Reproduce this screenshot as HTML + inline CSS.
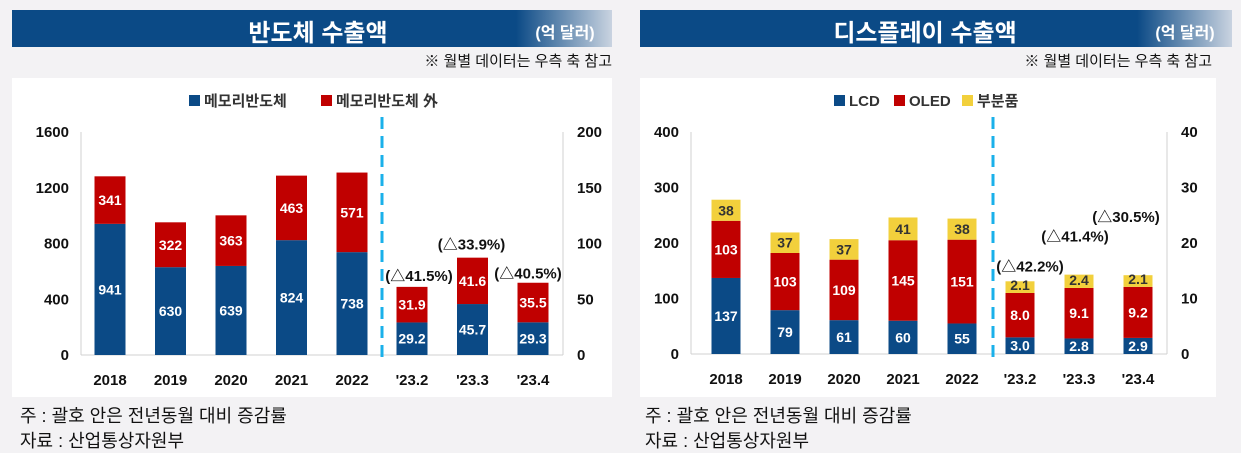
<!DOCTYPE html>
<html><head><meta charset="utf-8"><style>
body{margin:0;width:1241px;height:452px;background:#f3f2f4;font-family:"Liberation Sans","Noto Sans CJK KR",sans-serif;overflow:hidden;position:relative}
.hdr{position:absolute;top:10px;height:37px;background:linear-gradient(90deg,#0b4a86 0%,#0b4a86 84%,#c9d3e0 100%);color:#fff;font-weight:bold}
.hdr .t{position:absolute;top:3px;font-size:24px;transform:translateX(-50%);white-space:nowrap}
.hdr .u{position:absolute;top:9px;font-size:16px;transform:translateX(-50%);white-space:nowrap}
.note{position:absolute;top:50px;font-size:15px;color:#111;white-space:nowrap}
.box{position:absolute;top:78px;height:319px;background:#fff}
.foot{position:absolute;font-size:18px;color:#111;left:20px;white-space:nowrap}
svg{position:absolute;left:0;top:0}
</style></head><body>
<div class="hdr" style="left:12px;width:600px"><span class="t" style="left:306px">반도체 수출액</span><span class="u" style="left:553px">(억 달러)</span></div>
<div class="hdr" style="left:640px;width:592px"><span class="t" style="left:285px">디스플레이 수출액</span><span class="u" style="left:545px">(억 달러)</span></div>
<div class="note" style="right:629px">※ 월별 데이터는 우측 축 참고</div>
<div class="note" style="right:29px">※ 월별 데이터는 우측 축 참고</div>
<div class="box" style="left:12px;width:600px"></div>
<div class="box" style="left:640px;width:576px"></div>
<div class="foot" style="top:402px">주 : 괄호 안은 전년동월 대비 증감률</div>
<div class="foot" style="top:427px">자료 : 산업통상자원부</div>
<div class="foot" style="top:402px;left:645px">주 : 괄호 안은 전년동월 대비 증감률</div>
<div class="foot" style="top:427px;left:645px">자료 : 산업통상자원부</div>
<svg id="chart" width="1241" height="452"></svg>
<script>
const semiCategories=["2018","2019","2020","2021","2022","'23.2","'23.3","'23.4"];
const semiMemory=[941,630,639,824,738,29.2,45.7,29.3];
const semiNonMemory=[341,322,363,463,571,31.9,41.6,35.5];
const semiLeftTicks=[0,400,800,1200,1600];
const semiRightTicks=[0,50,100,150,200];
const semiGrowth=["","","","","","(△41.5%)","(△33.9%)","(△40.5%)"];
const dispCategories=["2018","2019","2020","2021","2022","'23.2","'23.3","'23.4"];
const dispLCD=[137,79,61,60,55,3.0,2.8,2.9];
const dispOLED=[103,103,109,145,151,8.0,9.1,9.2];
const dispParts=[38,37,37,41,38,2.1,2.4,2.1];
const dispLeftTicks=[0,100,200,300,400];
const dispRightTicks=[0,10,20,30,40];
const dispGrowth=["","","","","","(△42.2%)","(△41.4%)","(△30.5%)"];
const NS="http://www.w3.org/2000/svg";
const svg=document.getElementById('chart');
function mk(tag,a,txt){const e=document.createElementNS(NS,tag);for(const k in a)e.setAttribute(k,a[k]);if(txt!==undefined)e.textContent=txt;svg.appendChild(e);return e;}
function draw(o){
  const yL=v=>o.base-(v/o.lmax)*(o.base-o.top);
  const yR=v=>o.base-(v/o.rmax)*(o.base-o.top);
  const xC=i=>i<5?o.x0+i*o.step:o.m0+(i-5)*o.step;
  let e=mk('line',{x1:o.axL,x2:o.axL,y1:o.top,y2:o.base,stroke:'#d0d0d0'});
  
  e=mk('line',{x1:o.axR,x2:o.axR,y1:o.top,y2:o.base,stroke:'#d0d0d0'});
  
  e=mk('line',{x1:o.axL,x2:o.axR,y1:o.base,y2:o.base,stroke:'#d0d0d0'});
  
  o.lt.forEach(v=>{e=mk('text',{x:o.axL-12,y:yL(v)+5,'text-anchor':'end','font-size':15,'font-weight':'bold',fill:'#111'},v);
    });
  o.rt.forEach(v=>{e=mk('text',{x:o.axR+14,y:yR(v)+5,'font-size':15,'font-weight':'bold',fill:'#111'},v);
    });
  e=mk('line',{x1:o.dash,x2:o.dash,y1:o.top-15,y2:o.base+5,stroke:'#1ab0ea','stroke-width':3,'stroke-dasharray':'12,7'});
  
  o.cats.forEach((c,i)=>{
    const y=i<5?yL:yR;let acc=0;const cx=xC(i);
    o.series.forEach((s,si)=>{
      const v=s[i];const y1=y(acc),y2=y(acc+v);
      e=mk('rect',{x:cx-o.bw/2,y:y2,width:o.bw,height:y1-y2,fill:o.colors[si]});
      
      const ty=Math.min((y1+y2)/2+5,y1-3);
      e=mk('text',{x:cx,y:ty,'text-anchor':'middle','font-size':14,'font-weight':'bold',fill:o.lblc[si]},i<5?v:v.toFixed(1));
      
      acc+=v;});
    e=mk('text',{x:cx,y:o.base+30,'text-anchor':'middle','font-size':15,'font-weight':'bold',fill:'#111'},c);
    
    if(o.growth[i]){e=mk('text',{x:cx+(o.gdx[i-5]||0),y:y(acc)-o.gdy[i-5],'text-anchor':'middle','font-size':15,'font-weight':'bold',fill:'#111'},o.growth[i]);
      }
  });
  o.names.forEach((n,si)=>{
    const lx=o.legXs[si];
    e=mk('rect',{x:lx,y:95,width:11,height:11,fill:o.colors[si]});
    
    e=mk('text',{x:lx+15,y:106,'font-size':15,'font-weight':'bold',fill:'#333'},o.legend[si]);
    
  });
}
draw({cats:semiCategories,series:[semiMemory,semiNonMemory],colors:['#0b4a86','#c00000'],lblc:['#fff','#fff'],names:['memory','non-memory'],
 legend:['메모리반도체','메모리반도체 外'],legXs:[189,321],lt:semiLeftTicks,rt:semiRightTicks,lmax:1600,rmax:200,top:132,base:355,
 axL:81,axR:563,x0:110,m0:412,step:60.5,bw:31,dash:382,growth:semiGrowth,gdx:[7,-1,-5],gdy:[6,8,4]});
draw({cats:dispCategories,series:[dispLCD,dispOLED,dispParts],colors:['#0b4a86','#c00000','#f2d03c'],lblc:['#fff','#fff','#333'],names:['lcd','oled','parts'],
 legend:['LCD','OLED','부분품'],legXs:[834,894,962],lt:dispLeftTicks,rt:dispRightTicks,lmax:400,rmax:40,top:132,base:354,
 axL:691,axR:1167,x0:726,m0:1020,step:59,bw:29,dash:993,growth:dispGrowth,gdx:[10,-4,-12],gdy:[10,33,53]});
</script>
</body></html>
